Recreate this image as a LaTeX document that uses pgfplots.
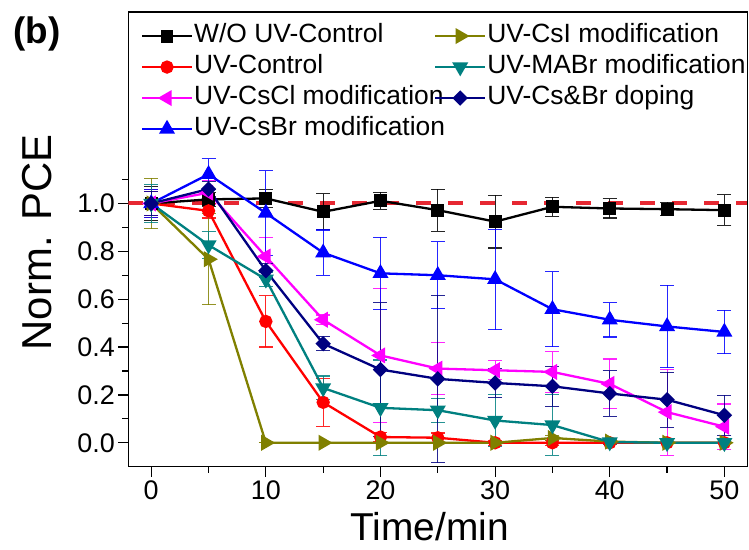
\documentclass[border=0pt]{standalone}
\usepackage{pgfplots}
\usepackage{pgfplotstable}
\pgfplotsset{compat=1.18}
\usepackage{fontspec}
\setmainfont{Liberation Sans}
\definecolor{cOlive}{RGB}{128,128,0}
\definecolor{cTeal}{RGB}{0,128,128}
\definecolor{cNavy}{RGB}{0,0,128}
\definecolor{cMag}{RGB}{255,0,255}
\definecolor{cBlue}{RGB}{0,0,255}
\definecolor{cRed}{RGB}{255,0,0}
\definecolor{cDash}{RGB}{230,40,50}

\pgfplotstableread{
x y e
0 1.000 0.070
5 1.017 0.030
10 1.021 0.037
15 0.965 0.075
20 1.011 0.035
25 0.972 0.088
30 0.924 0.110
35 0.986 0.040
40 0.979 0.040
45 0.976 0.028
50 0.972 0.064
}\woctrl
\pgfplotstableread{
x y e
0 1.000 0.060
5 0.969 0.030
10 0.507 0.107
15 0.169 0.100
20 0.024 0.020
25 0.021 0.020
30 0.000 0.010
35 0.000 0.010
40 0.000 0.005
45 0.000 0.000
50 0.000 0.000
}\uvctrl
\pgfplotstableread{
x y e
0 1.000 0.050
5 1.045 0.050
10 0.778 0.080
15 0.514 0.020
20 0.365 0.280
25 0.310 0.108
30 0.303 0.040
35 0.296 0.085
40 0.246 0.104
45 0.128 0.180
50 0.067 0.095
}\cscl
\pgfplotstableread{
x y e
0 1.000 0.060
5 1.122 0.065
10 0.960 0.176
15 0.794 0.095
20 0.708 0.150
25 0.700 0.140
30 0.683 0.210
35 0.558 0.157
40 0.514 0.072
45 0.486 0.172
50 0.463 0.090
}\csbr
\pgfplotstableread{
x y e
0 1.000 0.105
5 0.767 0.190
10 0.000 0.000
15 0.000 0.000
20 0.000 0.000
25 0.000 0.000
30 0.000 0.000
35 0.020 0.010
40 0.005 0.005
45 0.000 0.000
50 0.000 0.000
}\csi
\pgfplotstableread{
x y e
0 1.000 0.080
5 0.826 0.056
10 0.683 0.030
15 0.229 0.050
20 0.146 0.200
25 0.136 0.050
30 0.093 0.107
35 0.074 0.127
40 0.003 0.010
45 0.000 0.000
50 0.000 0.000
}\mabr
\pgfplotstableread{
x y e
0 1.000 0.050
5 1.060 0.030
10 0.719 0.030
15 0.414 0.030
20 0.306 0.280
25 0.267 0.350
30 0.250 0.060
35 0.236 0.083
40 0.206 0.095
45 0.180 0.115
50 0.115 0.083
}\csbrdop

\pgfplotsset{
  ser/.style={line width=2.3bp, draw=#1, color=#1, mark options={solid, fill=#1, draw=#1},
    error bars/y dir=both, error bars/y explicit,
    error bars/error bar style={line width=1.1bp, draw=#1, color=#1, opacity=0.85},
    error bars/error mark options={rotate=90, line width=1.1bp, mark size=7bp, draw=#1, color=#1}},
}

\begin{document}
\begin{tikzpicture}
\path[use as bounding box] (0,0) rectangle (749bp,550bp);
\begin{axis}[
  at={(128.3bp,83.3bp)}, anchor=south west,
  width=619bp, height=454.7bp, scale only axis,
  xmin=-2, xmax=52, ymin=-0.1, ymax=1.8,
  xtick={0,10,20,30,40,50}, minor xtick={5,15,25,35,45},
  ytick={0,0.2,0.4,0.6,0.8,1.0}, minor ytick={0.1,0.3,0.5,0.7,0.9,1.1},
  yticklabel style={/pgf/number format/.cd, fixed, fixed zerofill, precision=1},
  /pgf/number format/assume math mode=true,
  tick align=outside, xtick pos=bottom, ytick pos=left,
  major tick length=10bp, minor tick length=6bp,
  tick style={black, line width=1.2bp},
  axis line style={line width=1.2bp},
  ticklabel style={font=\fontsize{27}{30}\selectfont},
  xlabel={Time/min}, ylabel={Norm. PCE},
  xlabel style={font=\fontsize{39}{43}\selectfont, at={(axis description cs:0.487,-0.163)}, anchor=base, text depth=0pt, inner sep=0pt},
  ylabel style={font=\fontsize{42}{46}\selectfont, at={(axis description cs:-0.147,0.493)}, anchor=center},
  legend columns=2,
  legend cell align=left,
  legend style={at={(axis description cs:0.020,0.975)}, anchor=north west,
    draw=none, fill=none, inner sep=0pt,
    font=\fontsize{26.5}{31}\selectfont,
    nodes={inner sep=1bp, text height=18bp, text depth=5bp},
    row sep=6bp,
    /tikz/every even column/.append style={column sep=-12bp}},
  legend image code/.code={\draw[mark repeat=2, mark phase=2, #1] plot coordinates {(0bp,0bp) (25bp,0bp) (50bp,0bp)};},
]
\addlegendimage{line width=2.3bp, black, mark=square*, mark size=5.3bp}
\addlegendentry{W/O UV-Control}
\addlegendimage{line width=2.3bp, cOlive, mark=triangle*, mark size=7bp, mark options={rotate=-90}}
\addlegendentry{UV-CsI modification}
\addlegendimage{line width=2.3bp, cRed, mark=*, mark size=5.5bp}
\addlegendentry{UV-Control}
\addlegendimage{line width=2.3bp, cTeal, mark=triangle*, mark size=7bp, mark options={rotate=180}}
\addlegendentry{UV-MABr modification}
\addlegendimage{line width=2.3bp, cMag, mark=triangle*, mark size=7bp, mark options={rotate=90}}
\addlegendentry{UV-CsCl modification}
\addlegendimage{line width=2.3bp, cNavy, mark=square*, mark size=4.3bp, mark options={rotate=45}}
\addlegendentry{UV-Cs\&Br doping}
\addlegendimage{line width=2.3bp, cBlue, mark=triangle*, mark size=7bp}
\addlegendentry{UV-CsBr modification}

\addplot[forget plot, cDash, line width=4bp, dash pattern=on 15bp off 17bp] coordinates {(-2,1) (52,1)};

\addplot[forget plot, ser=black, mark=square*, mark size=5.3bp] table[x=x, y=y, y error=e] {\woctrl};
\addplot[forget plot, ser=cRed, mark=*, mark size=5.5bp] table[x=x, y=y, y error=e] {\uvctrl};
\addplot[forget plot, ser=cMag, mark=triangle*, mark size=7bp, mark options={rotate=90}] table[x=x, y=y, y error=e] {\cscl};
\addplot[forget plot, ser=cBlue, mark=triangle*, mark size=7bp] table[x=x, y=y, y error=e] {\csbr};
\addplot[forget plot, ser=cOlive, mark=triangle*, mark size=7bp, mark options={rotate=-90}] table[x=x, y=y, y error=e] {\csi};
\addplot[forget plot, ser=cTeal, mark=triangle*, mark size=7bp, mark options={rotate=180}] table[x=x, y=y, y error=e] {\mabr};
\addplot[forget plot, ser=cNavy, mark=square*, mark size=4.3bp, mark options={rotate=45}] table[x=x, y=y, y error=e] {\csbrdop};
\end{axis}
\node[font=\bfseries\fontsize{37}{37}\selectfont] at (37bp,516bp) {(b)};
\end{tikzpicture}
\end{document}
